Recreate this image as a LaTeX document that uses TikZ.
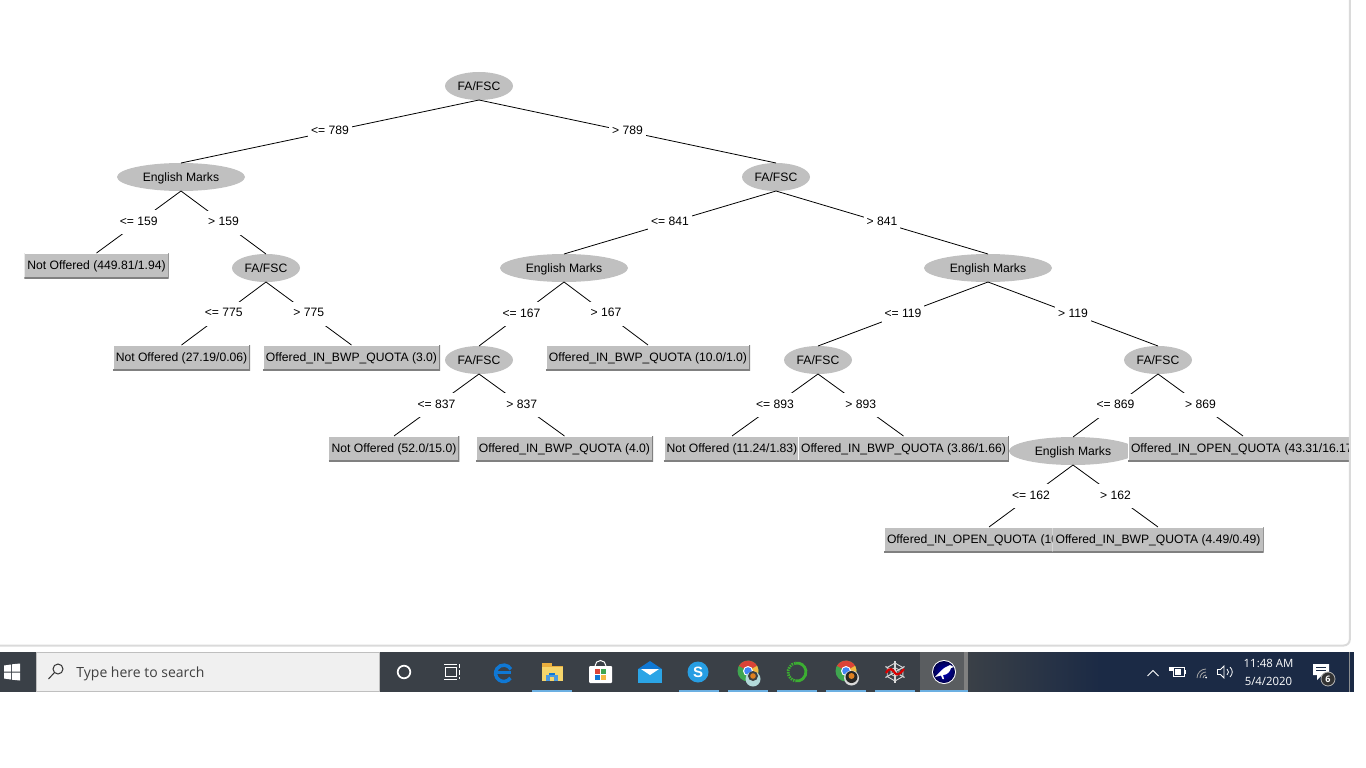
\documentclass[tikz,border=0pt]{standalone}
\usepackage{xcolor}
\usepackage{fontspec}
\setmainfont{Liberation Sans}
\newfontfamily\barfont{Open Sans}
\usetikzlibrary{shapes,positioning}
\definecolor{nodegray}{HTML}{C0C0C0}
\definecolor{rimgray}{HTML}{808080}
\definecolor{framegray}{HTML}{DADADA}
\definecolor{barleft}{HTML}{3A4047}
\definecolor{barright}{HTML}{1B2A45}
\definecolor{barlight}{HTML}{5A5D60}
\definecolor{runblue}{HTML}{6CB0E2}
\definecolor{msblue}{HTML}{0F78D4}
\definecolor{skyblue}{HTML}{2BA5E6}
\definecolor{chromered}{HTML}{DB4437}
\definecolor{chromegreen}{HTML}{3FA650}
\definecolor{chromeyellow}{HTML}{F4B942}
\definecolor{chromeblue}{HTML}{4285F4}
\definecolor{ringgreen}{HTML}{3CAE32}
\definecolor{folderyellow}{HTML}{F6D56B}
\definecolor{foldertab}{HTML}{E9AE3E}
\tikzstyle{split} = [ellipse, fill=nodegray, minimum width=68pt, minimum height=28pt, inner sep=0pt, outer sep=0pt, font=\fontsize{12.15}{14}\selectfont, text height=9.5pt, text depth=0pt]
\tikzstyle{wide} = [minimum width=128pt]
\tikzstyle{leaf} = [rectangle, fill=nodegray, minimum height=25pt, inner xsep=3pt, inner ysep=0pt, outer sep=0pt, font=\fontsize{12.15}{14}\selectfont, text height=9pt, text depth=1pt, path picture={\draw[white, line width=1.6pt] (path picture bounding box.south west) -- (path picture bounding box.north west) -- (path picture bounding box.north east); \draw[rimgray, line width=2pt] (path picture bounding box.south west) -- (path picture bounding box.south east) -- (path picture bounding box.north east);}]
\tikzstyle{cut} = [align=left]
\tikzstyle{cond} = [rectangle, fill=white, minimum height=24pt, inner xsep=3pt, inner ysep=0pt, font=\fontsize{12.15}{14}\selectfont, text height=8pt, text depth=2pt]
\tikzstyle{runmark} = [fill=runblue]
\begin{document}
\begin{tikzpicture}[x=1pt, y=-1pt, node distance=91pt, line width=0.8pt]
	\useasboundingbox (0,0) rectangle (1366,768);
	% tree
	\node[split] (root) at (479,86) {FA/FSC};
	\node[split, wide] (enga) [below of=root, xshift=-298pt] {English Marks};
	\node[split] (fsca) [below of=root, xshift=297pt] {FA/FSC};
	\node[leaf, minimum width=143pt] (lnota) [below of=enga, xshift=-84.5pt, node distance=88.5pt] {Not Offered (449.81/1.94)};
	\node[split] (fscb) [below of=enga, xshift=85pt] {FA/FSC};
	\node[leaf, minimum width=137pt] (lnotb) [below of=fscb, xshift=-84.5pt, node distance=89.5pt] {Not Offered (27.19/0.06)};
	\node[leaf, minimum width=175pt] (lbwpa) [below of=fscb, xshift=85.5pt, node distance=89.5pt] {Offered\_IN\_BWP\_QUOTA (3.0)};
	\node[split, wide] (engb) [below of=fsca, xshift=-212pt] {English Marks};
	\node[split, wide] (engc) [below of=fsca, xshift=212pt] {English Marks};
	\node[split] (fscc) [below of=engb, xshift=-85pt, node distance=92pt] {FA/FSC};
	\node[leaf, minimum width=202pt] (lbwpb) [below of=engb, xshift=84pt, node distance=89.5pt] {Offered\_IN\_BWP\_QUOTA (10.0/1.0)};
	\node[leaf, minimum width=130pt] (lnotc) [below of=fscc, xshift=-85pt, node distance=88.5pt] {Not Offered (52.0/15.0)};
	\node[leaf, minimum width=175pt] (lbwpc) [below of=fscc, xshift=85.5pt, node distance=88.5pt] {Offered\_IN\_BWP\_QUOTA (4.0)};
	\node[split] (fscd) [below of=engc, xshift=-170pt, node distance=92pt] {FA/FSC};
	\node[split] (fsce) [below of=engc, xshift=170pt, node distance=92pt] {FA/FSC};
	\node[leaf, minimum width=134pt] (lnotd) [below of=fscd, xshift=-86pt, node distance=88.5pt] {Not Offered (11.24/1.83)};
	\node[leaf, minimum width=209pt] (lbwpd) [below of=fscd, xshift=85.5pt, node distance=88.5pt] {Offered\_IN\_BWP\_QUOTA (3.86/1.66)};
	\node[split, wide] (engd) [below of=fsce, xshift=-85pt, node distance=91pt] {English Marks};
	\node[leaf, cut, text width=224pt] (lopena) [below of=fsce, xshift=85pt, node distance=88.5pt] {Offered\_IN\_OPEN\_QUOTA (43.31/16.17};
	\node[leaf, cut, text width=204pt] (lopenb) [below of=engd, xshift=-84pt, node distance=88.5pt] {Offered\_IN\_OPEN\_QUOTA (10};
	\node[leaf, minimum width=211pt] (lbwpe) [below of=engd, xshift=85pt, node distance=88.5pt] {Offered\_IN\_BWP\_QUOTA (4.49/0.49)};
	\draw (root.south) -- node[cond] {<= 789} (enga.north);
	\draw (root.south) -- node[cond] {> 789} (fsca.north);
	\draw (enga.south) -- node[cond] {<= 159} (lnota.north);
	\draw (enga.south) -- node[cond] {> 159} (fscb.north);
	\draw (fscb.south) -- node[cond] {<= 775} (lnotb.north);
	\draw (fscb.south) -- node[cond] {> 775} (lbwpa.north);
	\draw (fsca.south) -- node[cond] {<= 841} (engb.north);
	\draw (fsca.south) -- node[cond] {> 841} (engc.north);
	\draw (engb.south) -- node[cond] {<= 167} (fscc.north);
	\draw (engb.south) -- node[cond] {> 167} (lbwpb.north);
	\draw (fscc.south) -- node[cond] {<= 837} (lnotc.north);
	\draw (fscc.south) -- node[cond] {> 837} (lbwpc.north);
	\draw (engc.south) -- node[cond] {<= 119} (fscd.north);
	\draw (engc.south) -- node[cond] {> 119} (fsce.north);
	\draw (fscd.south) -- node[cond] {<= 893} (lnotd.north);
	\draw (fscd.south) -- node[cond] {> 893} (lbwpd.north);
	\draw (fsce.south) -- node[cond] {<= 869} (engd.north);
	\draw (fsce.south) -- node[cond] {> 869} (lopena.north);
	\draw (engd.south) -- node[cond] {<= 162} (lopenb.north);
	\draw (engd.south) -- node[cond] {> 162} (lbwpe.north);
	% window edge
	\fill[white] (1351,0) rectangle (1366,640);
	\draw[framegray, line width=2pt, rounded corners=6pt] (0,645.5) -- (1349.8,645.5) -- (1349.8,0);
	% taskbar
	\fill[barright] (968,652) rectangle (1354,692);
	\shade[left color=barleft, right color=barright] (968,652) rectangle (1100,692);
	\fill[barleft] (0,652) rectangle (968,692);
	\fill[barlight] (920,652) rectangle (964,692);
	\fill[rimgray] (964,652) rectangle (968,692);
	\fill[barlight!70!white] (1349,652) rectangle (1350,692);
	\fill[white] (0,692) rectangle (1366,695);
	\fill[runmark] (532,690) rectangle (572,692);
	\fill[runmark] (679,690) rectangle (719,692);
	\fill[runmark] (728,690) rectangle (768,692);
	\fill[runmark] (777,690) rectangle (817,692);
	\fill[runmark] (826,690) rectangle (866,692);
	\fill[runmark] (875,690) rectangle (915,692);
	\fill[runmark] (920,690) rectangle (968,692);
	% start button
	\fill[white] (4,665.5) -- (11,664.5) -- (11,671.5) -- (4,671.5) -- cycle;
	\fill[white] (12,664.3) -- (20,663.5) -- (20,671.5) -- (12,671.5) -- cycle;
	\fill[white] (4,672.5) -- (11,672.5) -- (11,679.5) -- (4,678.5) -- cycle;
	\fill[white] (12,672.5) -- (20,672.5) -- (20,680.5) -- (12,679.7) -- cycle;
	% search box
	\draw[fill=black!6, draw=black!25] (36.5,652.5) rectangle (379.5,691.5);
	\draw[black!80, line width=1pt] (58,669) circle[radius=5];
	\draw[black!80, line width=1pt] (54.5,672.5) -- (48.5,679);
	\node[anchor=west, inner sep=0pt, text=black!75, font=\barfont\fontsize{14}{16}\selectfont] (searchtxt) at (76,673.5) {Type here to search};
	% cortana and task view
	\draw[white, line width=1.7pt] (404,672) circle[radius=6.3];
	\draw[white, line width=1pt] (445,667.5) rectangle (456,676.5);
	\draw[white, line width=1pt] (444,664.5) -- (457,664.5) (444,679) -- (457,679) (459.5,664) -- (459.5,668) (459.5,670) -- (459.5,674.5) (459.5,676.5) -- (459.5,679);
	% edge
	\begin{scope}[shift={(503,672)}, y=1pt]
		\draw[msblue, line width=3.5pt] (7.5,-6) arc[start angle=-35, end angle=-330, radius=8.2];
		\draw[msblue, line width=3pt] (-6,-0.5) -- (8,-0.5);
	\end{scope}
	% explorer
	\fill[foldertab] (541.5,663) rectangle (552,668);
	\fill[folderyellow] (541.5,665.5) rectangle (563,680.5);
	\fill[foldertab] (541.5,665.5) rectangle (563,667);
	\fill[msblue!75!white] (546,675) rectangle (558,680.5);
	\fill[msblue] (549,673) rectangle (555,675);
	\fill[folderyellow] (550,677) rectangle (554,680.5);
	% store
	\fill[white, rounded corners=1pt] (589,666) rectangle (612,683);
	\draw[white, line width=1pt] (595,666) arc[start angle=180, end angle=360, radius=5.5];
	\fill[chromered] (595,669) rectangle (600,674);
	\fill[chromegreen] (601,669) rectangle (606,674);
	\fill[msblue] (595,675) rectangle (600,680);
	\fill[chromeyellow] (601,675) rectangle (606,680);
	% mail
	\fill[skyblue] (638,669) rectangle (662,683);
	\fill[msblue] (638,669) -- (650,661) -- (662,669) -- cycle;
	\fill[white] (641,669) -- (659,669) -- (650,675) -- cycle;
	% skype
	\fill[skyblue!85!msblue] (698,672) circle[radius=10.5];
	\node[text=white, inner sep=0pt, font=\bfseries\fontsize{15}{16}\selectfont] (skypes) at (698,672) {S};
	% first chrome
	\begin{scope}[shift={(748,671)}, y=1pt]
		\fill[chromegreen] (0,0) circle[radius=10.5];
		\fill[chromered] (0,0) -- (-9.1,5.2) arc[start angle=150, end angle=30, radius=10.5] -- cycle;
		\fill[chromeyellow] (0,0) -- (9.1,5.2) arc[start angle=30, end angle=-90, radius=10.5] -- cycle;
		\fill[white] (0,0) circle[radius=5];
		\fill[chromeblue] (0,0) circle[radius=3.8];
		\fill[teal!30!white] (5,-8) circle[radius=7.5];
		\fill[black!75] (5,-5) circle[radius=5];
		\fill[orange!50!brown] (5,-5) circle[radius=2.8];
	\end{scope}
	% green ring
	\begin{scope}[shift={(797,672)}, y=1pt]
		\draw[ringgreen, line width=2.8pt] (100:9) arc[start angle=100, end angle=-100, radius=9];
		\draw[ringgreen, line width=2.8pt, dash pattern=on 1.5pt off 1pt] (100:9) arc[start angle=100, end angle=260, radius=9];
	\end{scope}
	% second chrome
	\begin{scope}[shift={(846,671)}, y=1pt]
		\fill[chromegreen] (0,0) circle[radius=10.5];
		\fill[chromered] (0,0) -- (-9.1,5.2) arc[start angle=150, end angle=30, radius=10.5] -- cycle;
		\fill[chromeyellow] (0,0) -- (9.1,5.2) arc[start angle=30, end angle=-90, radius=10.5] -- cycle;
		\fill[white] (0,0) circle[radius=5];
		\fill[chromeblue] (0,0) circle[radius=3.8];
		\fill[black!15] (5.5,-7) circle[radius=7.5];
		\fill[black!85] (5.5,-6) circle[radius=6];
		\fill[orange!50!brown] (5.5,-5) circle[radius=3];
	\end{scope}
	% web
	\begin{scope}[shift={(895,672)}, y=1pt]
		\foreach \a in {30,90,...,330}
			\draw[white!85!black, line width=1.1pt] (0,0) -- (\a:11);
		\draw[white!85!black, line width=0.9pt] (30:9) -- (90:9) -- (150:9) -- (210:9) -- (270:9) -- (330:9) -- cycle;
		\draw[white!85!black, line width=0.8pt] (30:4.5) -- (90:4.5) -- (150:4.5) -- (210:4.5) -- (270:4.5) -- (330:4.5) -- cycle;
		\draw[red!85!black, line width=2.2pt] (-9,-1) .. controls (-5,6) and (-2,2) .. (0,-1) .. controls (2,-4) and (5,-2) .. (9,3);
	\end{scope}
	% weka
	\begin{scope}[shift={(944,672)}, y=1pt]
		\fill[white] (0,0) circle[radius=12];
		\shade[inner color=blue!75!black, outer color=blue!30!black] (0,0) circle[radius=11];
		\fill[white] (-9,-5) .. controls (-4,0) and (-1,4) .. (3,5.5) -- (6,7) -- (10,5) -- (7,4) .. controls (6,0) and (3,-3) .. (-1,-3) -- (0,-7) -- (-1.5,-7) -- (-3,-3.5) -- cycle;
	\end{scope}
	% tray
	\draw[white, line width=1pt] (1147.5,676) -- (1153,670.5) -- (1158.5,676);
	\draw[white, line width=1pt] (1173,667.5) rectangle (1184,676);
	\fill[white] (1175,669) rectangle (1181,675);
	\fill[white] (1169,667) rectangle (1173,671);
	\fill[white] (1184,670) rectangle (1185.5,673.5);
	\draw[white!65!black, line width=0.8pt] (1197,678) arc[start angle=180, end angle=270, radius=9] (1200,678) arc[start angle=180, end angle=270, radius=6] (1203,678) arc[start angle=180, end angle=270, radius=3];
	\fill[white] (1206,677.5) circle[radius=1];
	\draw[white, line width=0.8pt] (1217.5,669.5) -- (1220.5,669.5) -- (1224,666) -- (1224,678) -- (1220.5,674.5) -- (1217.5,674.5) -- cycle;
	\draw[white, line width=0.8pt] (1227,669) .. controls (1229,671) and (1229,673) .. (1227,675) (1230,667) .. controls (1233,670) and (1233,674) .. (1230,677);
	\node[text=white, inner sep=0pt, font=\barfont\fontsize{11.4}{13}\selectfont] (clock) at (1268.5,663) {11:48 AM};
	\node[text=white, inner sep=0pt, font=\barfont\fontsize{11.4}{13}\selectfont] (today) at (1268.5,681) {5/4/2020};
	\fill[white] (1313,664) rectangle (1329,675) (1317,675) -- (1317,680) -- (1322,675) -- cycle;
	\draw[barright, line width=0.8pt] (1316,667.5) -- (1326,667.5) (1316,670.5) -- (1326,670.5);
	\node[circle, draw=white!70!black, fill=black!80, text=white, inner sep=0pt, minimum size=14pt, font=\barfont\bfseries\fontsize{9}{10}\selectfont] (badge) at (1328,679) {6};
\end{tikzpicture}
\end{document}
